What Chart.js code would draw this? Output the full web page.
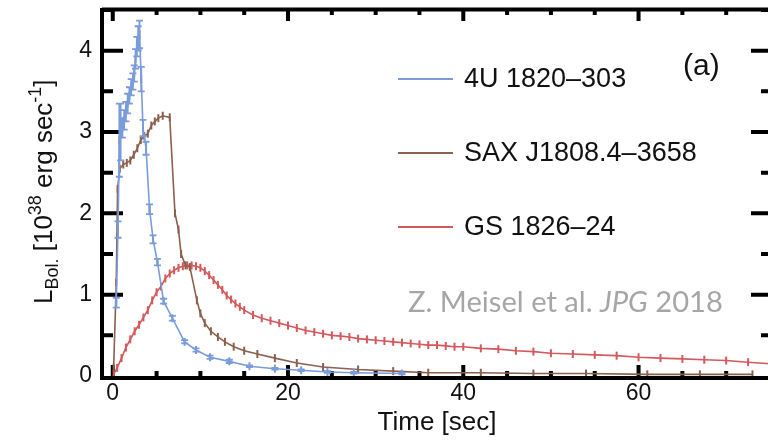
<!DOCTYPE html>
<html>
<head>
<meta charset="utf-8">
<script src="https://cdn.jsdelivr.net/npm/chart.js@4/dist/chart.umd.min.js"></script>
<style>
  html, body { margin: 0; padding: 0; background: #fff; overflow: hidden; }
  #wrap { width: 776px; height: 441px; }
</style>
</head>
<body>
<div id="wrap"><canvas id="grafico"></canvas></div>
<script>
// values
const seriesNames = ["4U 1820\u2012303", "SAX J1808.4\u20123658", "GS 1826\u201224"];
const seriesColors = ["rgb(122,156,219)", "rgb(140,95,78)", "rgb(212,88,92)"];

const blueTime = [0.4, 0.6, 0.75, 0.9, 1.1, 1.3, 1.5, 1.7, 1.9, 2.1, 2.3, 2.45, 2.6, 2.75, 2.9, 3.05, 3.25, 3.45, 3.8, 4.2, 4.6, 5.1, 5.8, 6.8, 8.2, 9.5, 11.1, 13.3, 15.6, 18.5, 21.5, 24.5, 27.5, 33];
const blueLum  = [0.9, 1.8, 2.9, 3.0, 3.05, 3.15, 3.25, 3.35, 3.45, 3.55, 3.62, 3.72, 3.9, 4.05, 4.15, 4.2, 3.65, 3.05, 2.8, 2.05, 1.68, 1.4, 0.92, 0.71, 0.42, 0.32, 0.23, 0.18, 0.12, 0.09, 0.07, 0.05, 0.04, 0.03];
const blueErr  = [0.06, 0.1, 0.45, 0.35, 0.12, 0.12, 0.12, 0.12, 0.1, 0.1, 0.1, 0.1, 0.12, 0.12, 0.15, 0.17, 0.15, 0.1, 0.08, 0.06, 0.05, 0.04, 0.03, 0.03, 0.02, 0.02, 0.02, 0.02, 0.01, 0.01, 0.01, 0.01, 0.01, 0.01];

const brownTime = [0.1, 0.4, 0.55, 0.8, 1.2, 1.6, 2.0, 2.4, 2.8, 3.2, 3.6, 4.0, 4.4, 4.8, 5.2, 5.7, 6.5, 7.1, 7.5, 7.8, 8.3, 8.8, 9.6, 10.0, 10.5, 11.2, 12.0, 12.8, 13.8, 15.0, 16.5, 18.5, 21, 24, 28, 32, 36, 42, 48, 54, 61, 67, 73];
const brownLum  = [0.1, 1.15, 2.3, 2.55, 2.6, 2.62, 2.65, 2.72, 2.8, 2.9, 2.95, 2.98, 3.08, 3.13, 3.17, 3.2, 3.18, 2.0, 1.8, 1.5, 1.36, 1.34, 0.93, 0.77, 0.65, 0.55, 0.48, 0.42, 0.36, 0.31, 0.27, 0.22, 0.16, 0.11, 0.08, 0.06, 0.04, 0.04, 0.03, 0.03, 0.02, 0.02, 0.02];

const redTime = [0.1, 0.5, 1.0, 1.5, 2.0, 2.5, 3.0, 3.5, 4.0, 4.5, 5.0, 5.5, 6.0, 6.5, 7.0, 7.5, 8.0, 8.5, 9.0, 9.5, 10.0, 10.5, 11.0, 11.5, 12.0, 12.5, 13.0, 13.5, 14.0, 14.5, 15.0, 16, 17, 18, 19, 20, 21, 22, 23, 24, 25, 26, 27, 28, 29, 30, 31, 32, 33, 34, 35, 36, 37, 38, 39, 40, 42, 44, 46, 48, 50, 52.5, 55, 57.5, 60, 62.5, 65, 67.5, 70, 72.5, 75];
const redLum  = [0.02, 0.1, 0.22, 0.35, 0.45, 0.55, 0.63, 0.72, 0.81, 0.93, 1.03, 1.10, 1.20, 1.26, 1.30, 1.33, 1.35, 1.36, 1.36, 1.35, 1.33, 1.29, 1.24, 1.18, 1.12, 1.06, 0.99, 0.94, 0.89, 0.85, 0.81, 0.75, 0.71, 0.68, 0.65, 0.62, 0.59, 0.56, 0.54, 0.52, 0.50, 0.49, 0.48, 0.46, 0.45, 0.44, 0.43, 0.42, 0.41, 0.40, 0.39, 0.38, 0.38, 0.37, 0.36, 0.36, 0.34, 0.33, 0.31, 0.30, 0.28, 0.27, 0.26, 0.25, 0.23, 0.22, 0.21, 0.20, 0.19, 0.17, 0.15];

const xTickLabels = [0, 20, 40, 60];
const yTickLabels = [0, 1, 2, 3, 4];

const fonte = "'Liberation Sans', Arial, sans-serif";

function pares(xs, ys) {
    return xs.map((x, i) => ({ x, y: ys[i] }));
}

function serie(i, xs, ys, err) {
    return {
        label: seriesNames[i],
        data: pares(xs, ys),
        yErr: err || null,
        borderColor: seriesColors[i],
        backgroundColor: seriesColors[i],
        borderWidth: 1.6,
        pointStyle: "line",
        rotation: 90,
        pointRadius: 4,
        pointBorderWidth: 2,
        pointHoverRadius: 4,
        tension: 0
    };
}

// frame, inward ticks, error bars, legend and annotations
const moldura = {
    id: "moldura",
    beforeDatasetsDraw(chart) {
        const { ctx, chartArea: a, scales: { x, y } } = chart;
        ctx.save();
        ctx.strokeStyle = "#000";
        ctx.lineWidth = 4;
        ctx.beginPath();
        ctx.moveTo(a.left - 2, a.top - 0.5);
        ctx.lineTo(a.right, a.top - 0.5);
        ctx.moveTo(a.left - 2, a.top - 2);
        ctx.lineTo(a.left - 2, a.bottom + 2);
        ctx.lineTo(a.right, a.bottom + 2);
        ctx.moveTo(a.right + 2, a.top);
        ctx.lineTo(a.right + 2, a.bottom);
        ctx.stroke();

        ctx.beginPath();
        for (let v = 0.5; v <= 4.5; v += 0.5) {
            const py = y.getPixelForValue(v);
            const len = Number.isInteger(v) ? 19 : 9;
            ctx.moveTo(a.left, py); ctx.lineTo(a.left + len, py);
            ctx.moveTo(a.right, py); ctx.lineTo(a.right - len, py);
        }
        for (let v = 0; v <= 75; v += 5) {
            const px = x.getPixelForValue(v);
            const len = v % 20 === 0 ? 11 : 5;
            ctx.moveTo(px, a.bottom); ctx.lineTo(px, a.bottom - len);
            ctx.moveTo(px, a.top); ctx.lineTo(px, a.top + len);
        }
        ctx.stroke();
        ctx.restore();
    },
    afterDatasetsDraw(chart) {
        const { ctx, scales: { x, y } } = chart;
        ctx.save();
        chart.data.datasets.forEach(ds => {
            if (!ds.yErr) return;
            ctx.strokeStyle = ds.borderColor;
            ctx.lineWidth = 1.8;
            ctx.beginPath();
            ds.data.forEach((p, i) => {
                const e = ds.yErr[i];
                const px = x.getPixelForValue(p.x);
                const y1 = y.getPixelForValue(p.y - e);
                const y2 = y.getPixelForValue(p.y + e);
                ctx.moveTo(px, y1); ctx.lineTo(px, y2);
                ctx.moveTo(px - 3.5, y1); ctx.lineTo(px + 3.5, y1);
                ctx.moveTo(px - 3.5, y2); ctx.lineTo(px + 3.5, y2);
            });
            ctx.stroke();
        });
        ctx.restore();
    },
    afterDraw(chart) {
        const { ctx } = chart;
        ctx.save();

        // legenda
        const linhas = [79, 153, 227];
        chart.data.datasets.forEach((ds, i) => {
            ctx.strokeStyle = ds.borderColor;
            ctx.lineWidth = 2;
            ctx.beginPath();
            ctx.moveTo(398, linhas[i]);
            ctx.lineTo(453, linhas[i]);
            ctx.stroke();
            ctx.fillStyle = "#111";
            ctx.font = "27px " + fonte;
            ctx.textBaseline = "middle";
            ctx.textAlign = "left";
            ctx.fillText(ds.label, 464, linhas[i] + 1);
        });

        ctx.font = "30px " + fonte;
        ctx.fillStyle = "#111";
        ctx.textBaseline = "middle";
        ctx.fillText("(a)", 683, 67);

        // credito
        ctx.fillStyle = "#a6a6a6";
        ctx.textBaseline = "alphabetic";
        const partes = [["Z. Meisel et al. ", ""], ["JPG", "italic "], [" 2018", ""]];
        let largura = 0;
        partes.forEach(([t, est]) => {
            ctx.font = est + "30px Lato, sans-serif";
            largura += ctx.measureText(t).width;
        });
        const tam = 30 * 315 / largura;
        let cx = 408;
        partes.forEach(([t, est]) => {
            ctx.font = est + tam + "px Lato, sans-serif";
            ctx.fillText(t, cx, 312);
            cx += ctx.measureText(t).width;
        });

        // titulo do eixo y
        ctx.fillStyle = "#111";
        ctx.translate(52, 304);
        ctx.rotate(-Math.PI / 2);
        let tx = 0;
        const pedacos = [
            ["L", 26, 0], ["Bol.", 18, 6], [" [10", 26, 0], ["38", 18, -11],
            [" erg sec", 26, 0], ["-1", 18, -11], ["]", 26, 0]
        ];
        pedacos.forEach(([t, sz, dy]) => {
            ctx.font = sz + "px " + fonte;
            ctx.fillText(t, tx, dy);
            tx += ctx.measureText(t).width;
        });
        ctx.restore();
    }
};

const ctx = document.getElementById("grafico").getContext("2d");
new Chart(ctx, {
    type: "line",
    data: {
        datasets: [
            serie(0, blueTime, blueLum, blueErr),
            serie(1, brownTime, brownLum),
            serie(2, redTime, redLum)
        ]
    },
    options: {
        responsive: true,
        maintainAspectRatio: false,
        animation: false,
        layout: { padding: { top: 10, right: 4, left: 0, bottom: 0 } },
        plugins: {
            legend: { display: false },
            tooltip: { enabled: false }
        },
        scales: {
            x: {
                type: "linear",
                min: -1,
                max: 75,
                border: { display: false },
                grid: { display: false, drawTicks: false },
                afterFit(s) { s.height = 65; s.paddingLeft = 0; s.paddingRight = 0; },
                afterBuildTicks(s) { s.ticks = xTickLabels.map(v => ({ value: v })); },
                ticks: {
                    padding: 4,
                    color: "#111",
                    font: { family: fonte, size: 23 },
                    maxRotation: 0
                },
                title: {
                    display: true,
                    text: "Time [sec]",
                    color: "#111",
                    font: { family: fonte, size: 26 },
                    padding: { top: 0, bottom: 3 }
                }
            },
            y: {
                min: 0,
                max: 4.5,
                border: { display: false },
                grid: { display: false, drawTicks: false },
                afterFit(s) { s.width = 104; s.paddingTop = 0; s.paddingBottom = 0; },
                afterBuildTicks(s) { s.ticks = yTickLabels.map(v => ({ value: v })); },
                ticks: {
                    padding: 12,
                    color: "#111",
                    font: { family: fonte, size: 23 }
                }
            }
        }
    },
    plugins: [moldura]
});
</script>
</body>
</html>
